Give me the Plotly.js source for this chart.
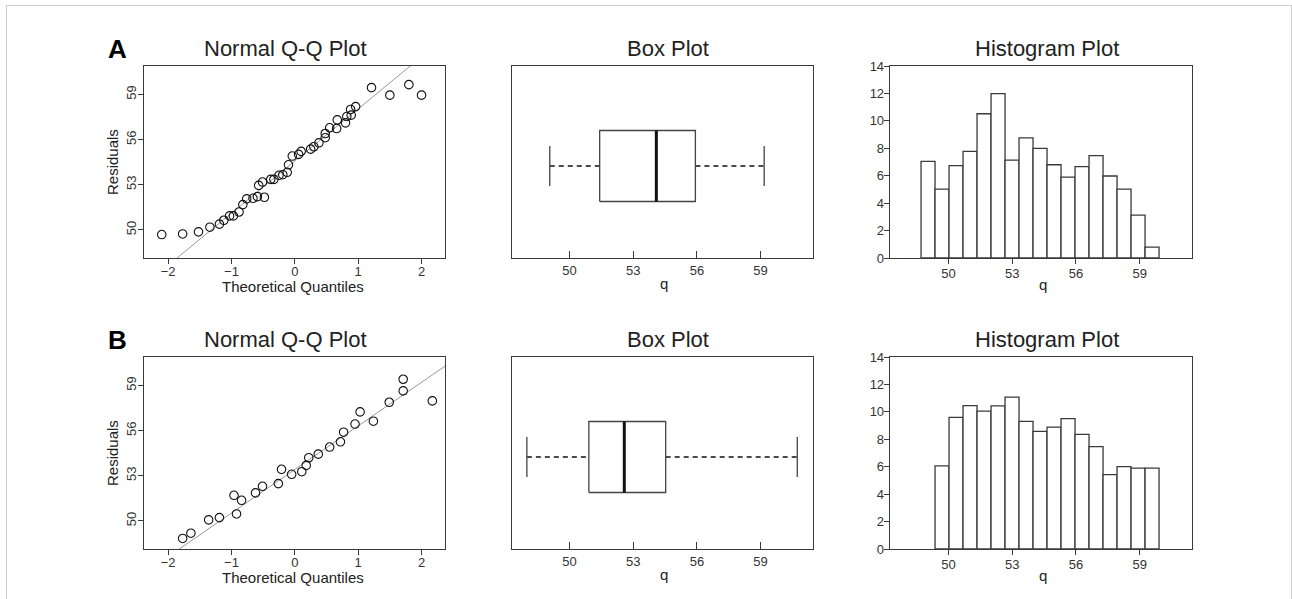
<!DOCTYPE html>
<html>
<head>
<meta charset="utf-8">
<script src="https://cdn.plot.ly/plotly-3.0.1.min.js"></script>
<style>
  html, body { margin: 0; padding: 0; background: #fff; }
  #wrap { position: relative; width: 1292px; height: 599px; overflow: hidden; }
  #chart { position: absolute; left: 0; top: 0; width: 1292px; height: 599px; }
  #frame { position: absolute; left: 6px; top: 5px; width: 1284px; height: 700px;
           border: 1px solid #cfcfcf; pointer-events: none; }
</style>
</head>
<body>
<div id="wrap">
  <div id="chart"></div>
  <div id="frame"></div>
</div>
<script>
// ---- Panel A: residuals ----
const qqTheoreticalA = [-2.10, -1.77, -1.52, -1.34, -1.19, -1.12, -1.03, -0.97, -0.88, -0.82,
  -0.76, -0.66, -0.59, -0.48, -0.57, -0.51, -0.38, -0.33, -0.25, -0.19, -0.12, -0.10, -0.04,
  0.06, 0.10, 0.25, 0.30, 0.38, 0.48, 0.48, 0.55, 0.66, 0.67, 0.80, 0.82, 0.89, 0.88, 0.96,
  1.21, 1.50, 1.80, 2.00];
const qqResidualA = [49.69, 49.73, 49.87, 50.18, 50.38, 50.64, 50.93, 50.93, 51.19, 51.68,
  52.06, 52.10, 52.21, 52.17, 52.96, 53.18, 53.36, 53.36, 53.63, 53.67, 53.83, 54.33, 54.91,
  55.02, 55.22, 55.37, 55.53, 55.79, 56.13, 56.41, 56.79, 56.74, 57.32, 57.12, 57.54, 57.63,
  58.01, 58.20, 59.46, 58.96, 59.66, 58.96];
const qqLineA = [54.58, 3.47];          // intercept, slope
const boxStatsA = [49.07, 51.42, 54.09, 55.93, 59.17]; // lower whisker, Q1, median, Q3, upper whisker
const histHeightsA = [7.05, 5.02, 6.74, 7.77, 10.52, 11.98, 7.14, 8.76, 8.0, 6.8, 5.9,
  6.67, 7.46, 5.98, 5.02, 3.12, 0.8];
const histFirstBinA = 0;

// ---- Panel B: residuals ----
const qqTheoreticalB = [-1.77, -1.64, -1.36, -1.19, -0.96, -0.92, -0.84, -0.62, -0.51, -0.26,
  -0.21, -0.05, 0.11, 0.18, 0.22, 0.37, 0.55, 0.72, 0.77, 0.95, 1.03, 1.24, 1.49, 1.71, 1.71, 2.17];
const qqResidualB = [48.83, 49.18, 50.07, 50.22, 51.70, 50.46, 51.37, 51.86, 52.30, 52.48,
  53.43, 53.10, 53.27, 53.69, 54.20, 54.44, 54.91, 55.26, 55.90, 56.44, 57.25, 56.63, 57.89,
  58.65, 59.42, 57.98];
const qqLineB = [53.42, 2.90];
const boxStatsB = [47.99, 50.91, 52.58, 54.53, 60.73];
const histHeightsB = [6.06, 9.6, 10.45, 10.05, 10.43, 11.08, 9.3, 8.58, 8.88, 9.5, 8.36,
  7.46, 5.43, 6.01, 5.9, 5.9];
const histFirstBinB = 1;

// shared histogram bins
const histBinStart = 48.71;
const histBinWidth = 0.6588;

// axis ticks
const qqXTicks = [-2, -1, 0, 1, 2];
const qTicks = [50, 53, 56, 59];
const histYTicks = [0, 2, 4, 6, 8, 10, 12, 14];

// ---------------------------------------------------------------
const W = 1292, H = 599;
const FONT = '"Liberation Sans", Arial, Helvetica, sans-serif';
const LINE = '#3a3a3a';
const px = v => v / W;
const py = v => 1 - v / H;

// column & row placement in pixels
const cols = { qq: [144, 445], box: [512, 813], hist: [890, 1192] };
const rows = [[66, 258], [357, 549]];

const traces = [];
const layout = {
  width: W, height: H,
  margin: { l: 0, r: 0, t: 0, b: 0 },
  paper_bgcolor: '#fff', plot_bgcolor: '#fff',
  showlegend: false,
  font: { family: FONT, color: '#333', size: 13 },
  annotations: [], shapes: []
};

function frameAxis(extra) {
  return Object.assign({
    showline: true, mirror: true, linecolor: LINE, linewidth: 1.3,
    showgrid: false, zeroline: false, ticks: 'outside', ticklen: 5,
    tickwidth: 1, tickcolor: LINE, fixedrange: true,
    tickfont: { family: FONT, size: 13, color: '#333' }
  }, extra);
}

function label(text, x, y, size, angle) {
  layout.annotations.push({
    xref: 'paper', yref: 'paper', x: px(x), y: py(y), xanchor: 'center', yanchor: 'middle',
    text, showarrow: false, textangle: angle || 0, borderpad: 0,
    font: { family: FONT, size, color: '#222' }
  });
}

function addRow(r, d) {
  const n = 3 * r;
  const ax = k => (n + k === 1 ? '' : String(n + k));
  const top = rows[r][0], bottom = rows[r][1];
  const yDom = [py(bottom), py(top)];

  // --- Normal Q-Q ---
  const xq = 'x' + ax(1), yq = 'y' + ax(1);
  traces.push({
    type: 'scatter', mode: 'lines', xaxis: xq, yaxis: yq, hoverinfo: 'skip',
    x: [-3, 3], y: [d.line[0] - 3 * d.line[1], d.line[0] + 3 * d.line[1]],
    line: { color: '#9a9a9a', width: 1 }
  });
  traces.push({
    type: 'scatter', mode: 'markers', xaxis: xq, yaxis: yq,
    x: d.qx, y: d.qy,
    marker: { symbol: 'circle-open', size: 8.5, color: '#111', line: { width: 1.1, color: '#111' } }
  });
  layout['xaxis' + ax(1)] = frameAxis({
    domain: [px(cols.qq[0]), px(cols.qq[1])], anchor: yq, range: [-2.38, 2.37],
    tickvals: qqXTicks, ticklabelstandoff: -4
  });
  layout['yaxis' + ax(1)] = frameAxis({
    domain: yDom, anchor: xq, range: [48.13, 60.9], tickvals: qTicks, tickangle: -90,
    ticklabelstandoff: -3
  });
  label('Theoretical Quantiles', 293, bottom + 28, 15);
  label('Residuals', 112, (top + bottom) / 2, 15, -90);

  // --- Box plot ---
  const xb = 'x' + ax(2), yb = 'y' + ax(2);
  const [lo, q1, med, q3, hi] = d.box;
  const h = 0.386, c = 0.217;
  const seg = (x, y, line) => traces.push({
    type: 'scatter', mode: 'lines', xaxis: xb, yaxis: yb, hoverinfo: 'skip', x, y, line
  });
  seg([lo, q1], [0, 0], { color: '#111', width: 1.3, dash: '5px,4px' });
  seg([q3, hi], [0, 0], { color: '#111', width: 1.3, dash: '5px,4px' });
  seg([lo, lo], [-c, c], { color: '#444', width: 1.3 });
  seg([hi, hi], [-c, c], { color: '#444', width: 1.3 });
  seg([q1, q3, q3, q1, q1], [-h, -h, h, h, -h], { color: '#444', width: 1.3 });
  seg([med, med], [-h, h], { color: '#111', width: 3 });
  layout['xaxis' + ax(2)] = frameAxis({
    domain: [px(cols.box[0]), px(cols.box[1])], anchor: yb, range: [47.29, 61.47],
    tickvals: qTicks, ticks: 'inside', ticklen: 7
  });
  layout['yaxis' + ax(2)] = frameAxis({
    domain: yDom, anchor: xb, range: [-1, 1.087], ticks: '', showticklabels: false
  });
  label('q', 664, bottom + 25, 15);

  // --- Histogram ---
  const xh = 'x' + ax(3), yh = 'y' + ax(3);
  const centers = d.hist.map((_, i) => histBinStart + histBinWidth * (d.first + i + 0.5));
  traces.push({
    type: 'bar', xaxis: xh, yaxis: yh, x: centers, y: d.hist, width: histBinWidth,
    marker: { color: '#fff', line: { color: LINE, width: 1.3 } }
  });
  layout['xaxis' + ax(3)] = frameAxis({
    domain: [px(cols.hist[0]), px(cols.hist[1])], anchor: yh, range: [47.25, 61.46],
    tickvals: qTicks, ticklabelstandoff: -2
  });
  layout['yaxis' + ax(3)] = frameAxis({
    domain: yDom, anchor: xh, range: [0, 14], tickvals: histYTicks, ticklen: 5,
    ticklabelstandoff: -3
  });
  label('q', 1043, bottom + 26, 15);

  // titles
  const ty = top - 18;
  label('Normal Q-Q Plot', 285, ty, 22);
  label('Box Plot', 668, ty, 22);
  label('Histogram Plot', 1047, ty, 22);
  layout.annotations.push({
    xref: 'paper', yref: 'paper', x: px(117), y: py(ty + 1), xanchor: 'center', yanchor: 'middle',
    text: '<b>' + d.label + '</b>', showarrow: false, font: { family: FONT, size: 26, color: '#000' }
  });
}

addRow(0, { qx: qqTheoreticalA, qy: qqResidualA, line: qqLineA, box: boxStatsA,
  hist: histHeightsA, first: histFirstBinA, label: 'A' });
addRow(1, { qx: qqTheoreticalB, qy: qqResidualB, line: qqLineB, box: boxStatsB,
  hist: histHeightsB, first: histFirstBinB, label: 'B' });

Plotly.newPlot('chart', traces, layout, { staticPlot: true, displayModeBar: false });
</script>
</body>
</html>
